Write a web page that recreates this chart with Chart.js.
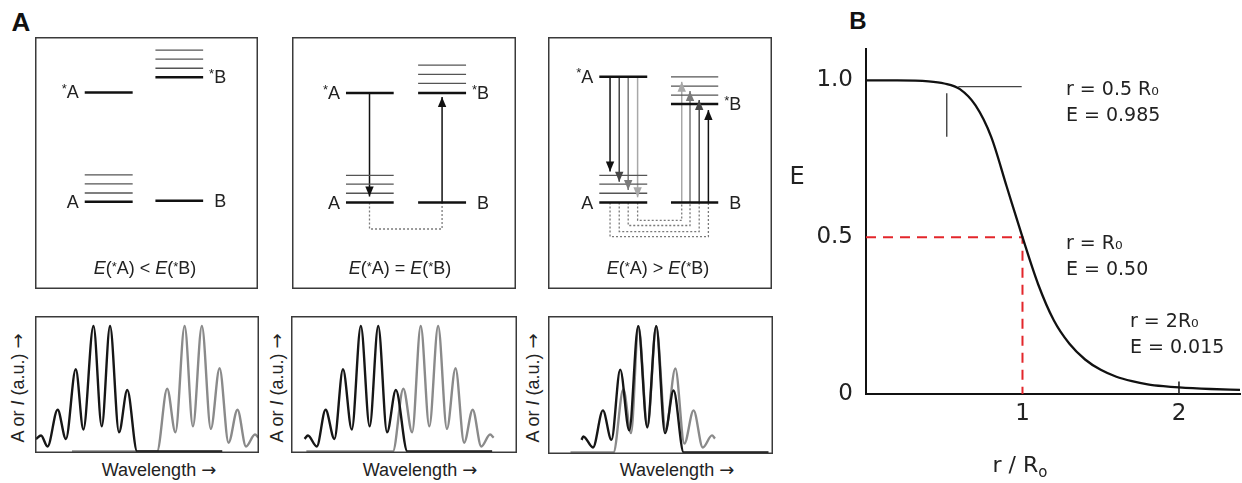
<!DOCTYPE html>
<html>
<head>
<meta charset="utf-8">
<script src="https://cdn.jsdelivr.net/npm/chart.js@4.4.1/dist/chart.umd.min.js"></script>
<style>
  html, body { margin: 0; padding: 0; background: #fff; }
  #page { position: relative; width: 1242px; height: 483px; overflow: hidden;
          font-family: "Liberation Sans", Arial, sans-serif; color: #222; }
  .box { position: absolute; }
  .lbl { position: absolute; white-space: nowrap; line-height: 1; transform: translate(-50%, -50%); }
  .panel { font-weight: bold; font-size: 26px; color: #111; }
  .cap, .wl { font-size: 18px; }
  .star { font-size: 13px; position: relative; top: -3px; }
  .vert { font-size: 18px; transform: translate(-50%, -50%) rotate(-90deg); }
  .arr { font-family: "DejaVu Sans", sans-serif; font-size: 18px; color: #222; }
  .lettering { font-family: "DejaVu Sans", sans-serif; color: #222; }
</style>
</head>
<body>
<div id="page">
  <div class="lbl panel" style="left:21px;top:22px">A</div>
  <div class="lbl panel" style="left:858px;top:21px;font-size:24px">B</div>

  <div class="box" style="left:35px;top:37px;width:223px;height:252px"><canvas id="diagram-1"></canvas></div>
  <div class="box" style="left:292px;top:37px;width:224px;height:252px"><canvas id="diagram-2"></canvas></div>
  <div class="box" style="left:548px;top:37px;width:224px;height:252px"><canvas id="diagram-3"></canvas></div>

  <div class="lbl cap" style="left:145px;top:268px"><i>E</i>(<span class="star">*</span>A) &lt; <i>E</i>(<span class="star">*</span>B)</div>
  <div class="lbl cap" style="left:400px;top:268px"><i>E</i>(<span class="star">*</span>A) = <i>E</i>(<span class="star">*</span>B)</div>
  <div class="lbl cap" style="left:658px;top:268px"><i>E</i>(<span class="star">*</span>A) &gt; <i>E</i>(<span class="star">*</span>B)</div>

  <div class="box" style="left:35px;top:316px;width:224px;height:137px"><canvas id="spectrum-1"></canvas></div>
  <div class="box" style="left:291px;top:316px;width:226px;height:137px"><canvas id="spectrum-2"></canvas></div>
  <div class="box" style="left:548px;top:316px;width:225px;height:138px"><canvas id="spectrum-3"></canvas></div>

  <div class="lbl vert" style="left:18px;top:388px">A or <i>I</i> (a.u.) <span class="arr">→</span></div>
  <div class="lbl vert" style="left:277px;top:388px">A or <i>I</i> (a.u.) <span class="arr">→</span></div>
  <div class="lbl vert" style="left:533px;top:388px">A or <i>I</i> (a.u.) <span class="arr">→</span></div>

  <div class="lbl wl" style="left:159px;top:470px">Wavelength <span class="arr">→</span></div>
  <div class="lbl wl" style="left:420px;top:470px">Wavelength <span class="arr">→</span></div>
  <div class="lbl wl" style="left:677px;top:470px">Wavelength <span class="arr">→</span></div>

  <div class="box" style="left:780px;top:0;width:462px;height:483px"><canvas id="fret-chart"></canvas></div>
  <div class="lbl lettering" style="left:797px;top:176px;font-size:24px">E</div>
  <div class="lbl lettering" style="left:1020px;top:465px;font-size:22px">r / R<span style="font-size:15px;position:relative;top:5px">o</span></div>
</div>

<script>
  // ---- Panel A, top: energy diagrams (x: 0-100 across the box, energy: 0-100 bottom to top)
  const donorSpan = [[22.3, 43.8], [24.1, 45.4], [22.9, 44.3]];
  const acceptorSpan = [[54.0, 75.4], [56.3, 77.7], [54.9, 76.0]];
  const donorExcited = [78.0, 77.8, 84.2];
  const donorGround = [34.6, 34.3, 34.3];
  const donorVib = [[38.1, 41.7, 45.3], [38.0, 41.6, 45.1], [38.0, 41.6, 45.1]];
  const acceptorExcited = [84.0, 77.8, 73.4];
  const acceptorGround = [35.0, 34.3, 34.3];
  const acceptorVib = [[87.6, 91.2, 94.8], [81.6, 85.2, 88.8], [76.9, 80.5, 84.2]];

  // emission arrows (donor) and absorption arrows (acceptor), paired by index
  const emissionX = [[], [34.6], [27.7, 31.8, 35.8, 40.0]];
  const emissionTip = [[], [36.7], [46.6, 42.6, 39.3, 36.4]];
  const absorptionX = [[], [67.0], [71.6, 67.5, 63.4, 59.7]];
  const absorptionTip = [[], [76.2], [71.0, 75.0, 78.6, 82.2]];
  const couplingDepth = [[], [23.8], [20.8, 22.8, 25.2, 27.2]];

  // ---- Panel A, bottom: spectra (wavelength 0-100 across the box, intensity 0-1)
  const emissionIntensity = [0.10, 0.127, 0.04, 0.333, 0.10, 0.656, 0.175, 1.0, 0.20, 1.0, 0.153, 0.49, 0, 0];
  const absorptionIntensity = [0, 0, 0.50, 0.153, 1.0, 0.20, 1.0, 0.18, 0.664, 0.07, 0.333, 0.04, 0.135, 0.11];
  const emissionWl = [
    [0.4, 2.7, 5.6, 10.1, 13.8, 18.2, 21.6, 26.1, 29.8, 33.5, 37.5, 41.2, 45.6, 83.6],
    [6.0, 7.5, 11.4, 15.3, 19.2, 23.0, 26.9, 30.9, 34.8, 38.6, 42.5, 46.4, 51.5, 89.0],
    [14.9, 15.7, 20.0, 24.4, 28.2, 32.1, 36.1, 40.1, 44.1, 48.1, 52.0, 55.8, 60.3, 98.0]
  ];
  const absorptionWl = [
    [16.5, 54.5, 59.0, 62.7, 66.8, 70.5, 74.5, 78.5, 82.4, 86.4, 90.4, 94.2, 98.2, 99.8],
    [6.8, 45.1, 49.7, 53.6, 57.4, 61.2, 65.1, 69.0, 72.8, 76.6, 80.4, 84.2, 88.1, 89.7],
    [10.0, 29.1, 33.5, 36.9, 40.2, 44.2, 48.1, 52.3, 56.6, 60.6, 64.7, 68.8, 72.9, 74.2]
  ];

  // ---- Panel B: FRET efficiency vs r/R0
  const rRatio = [0, 0.2, 0.4, 0.5, 0.6, 0.7, 0.8, 0.9, 1.0, 1.1, 1.2, 1.3, 1.4, 1.5, 1.6, 1.7, 1.8, 1.9, 2.0, 2.2, 2.39];
  const efficiency = [1.0, 1.0, 0.997, 0.99, 0.972, 0.92, 0.82, 0.66, 0.50, 0.35, 0.235, 0.16, 0.11, 0.077, 0.055, 0.041, 0.031, 0.025, 0.021, 0.016, 0.013];
  const rTickValues = [1, 2];
  const rTickLabels = ['1', '2'];
  const eTickValues = [0, 0.5, 1.0];
  const eTickLabels = ['0', '0.5', '1.0'];
  const halfPointR = [0, 1, 1];
  const halfPointE = [0.5, 0.5, 0];
  const markHorizR = [0.59, 0.995];
  const markHorizE = [0.98, 0.98];
  const markVertR = [0.516, 0.516];
  const markVertE = [0.959, 0.82];
  const tickTwoR = [2, 2];
  const tickTwoE = [0, 0.04];
  const noteText = [['r = 0.5 R₀', 'E = 0.985'], ['r = R₀', 'E = 0.50'], ['r = 2R₀', 'E = 0.015']];
  const noteR = [1.278, 1.278, 1.687];
  const noteE = [0.969, 0.478, 0.23];

  const LABEL_FONT = '"Liberation Sans", Arial, sans-serif';
  const LETTERING = '"DejaVu Sans", sans-serif';
  const SHADES = ['#111', '#474747', '#7a7a7a', '#a8a8a8'];

  function pts(xs, ys) {
    return xs.map((x, i) => ({ x: x, y: ys[i] }));
  }

  function seg(xs, ys, color, width, extra) {
    return Object.assign({
      data: pts(xs, ys),
      showLine: true,
      borderColor: color,
      borderWidth: width,
      pointRadius: 0,
      fill: false
    }, extra || {});
  }

  const hiddenScales = {
    x: { type: 'linear', min: 0, max: 100, display: false },
    y: { type: 'linear', min: 0, max: 100, display: false }
  };

  const baseOptions = {
    animation: false,
    responsive: true,
    maintainAspectRatio: false,
    events: [],
    layout: { padding: 0 },
    plugins: { legend: { display: false }, tooltip: { enabled: false } }
  };

  // Box outline round the chart area
  const framePlugin = {
    id: 'frame',
    afterDraw(chart) {
      const { ctx, chartArea: a } = chart;
      ctx.save();
      ctx.strokeStyle = '#3a3a3a';
      ctx.lineWidth = 1.5;
      ctx.strokeRect(a.left + 0.75, a.top + 0.75, a.right - a.left - 1.5, a.bottom - a.top - 1.5);
      ctx.restore();
    }
  };

  // Filled arrow heads on datasets flagged with arrowHead
  const arrowPlugin = {
    id: 'arrowHeads',
    afterDatasetsDraw(chart) {
      const ctx = chart.ctx;
      chart.data.datasets.forEach((ds, i) => {
        if (!ds.arrowHead) return;
        const p = chart.getDatasetMeta(i).data;
        const a = p[p.length - 2], b = p[p.length - 1];
        const ang = Math.atan2(b.y - a.y, b.x - a.x);
        ctx.save();
        ctx.translate(b.x, b.y);
        ctx.rotate(ang);
        ctx.beginPath();
        ctx.moveTo(0, 0);
        ctx.lineTo(-10, -4.2);
        ctx.lineTo(-10, 4.2);
        ctx.closePath();
        ctx.fillStyle = ds.borderColor;
        ctx.fill();
        ctx.restore();
      });
    }
  };

  // Level names: *A, A beside the donor levels, *B, B beside the acceptor levels
  function drawTag(ctx, text, x, y, side) {
    const hasStar = text[0] === '*';
    const letter = hasStar ? text.slice(1) : text;
    ctx.font = '18px ' + LABEL_FONT;
    ctx.textBaseline = 'middle';
    ctx.textAlign = 'left';
    ctx.fillStyle = '#222';
    const w = ctx.measureText(letter).width;
    const lx = side === 'left' ? x - 6 - w : x + 11;
    ctx.fillText(letter, lx, y + 1);
    if (hasStar) {
      ctx.font = '13px ' + LABEL_FONT;
      const sw = ctx.measureText('*').width;
      ctx.fillText('*', lx - sw, y - 3);
    }
  }

  function initDiagram(i) {
    const dS = donorSpan[i], aS = acceptorSpan[i];
    const sets = [];

    // main levels (thick) and vibrational levels (thin)
    sets.push(seg(dS, [donorExcited[i], donorExcited[i]], '#111', 2.6));
    sets.push(seg(dS, [donorGround[i], donorGround[i]], '#111', 2.6));
    sets.push(seg(aS, [acceptorExcited[i], acceptorExcited[i]], '#111', 2.6));
    sets.push(seg(aS, [acceptorGround[i], acceptorGround[i]], '#111', 2.6));
    donorVib[i].forEach(e => sets.push(seg(dS, [e, e], '#555', 1.3)));
    acceptorVib[i].forEach(e => sets.push(seg(aS, [e, e], '#555', 1.3)));

    // emission / absorption arrows
    emissionX[i].forEach((x, k) => {
      sets.push(seg([x, x], [donorExcited[i], emissionTip[i][k]], SHADES[k], 1.5, { arrowHead: true }));
    });
    absorptionX[i].forEach((x, k) => {
      sets.push(seg([x, x], [acceptorGround[i], absorptionTip[i][k]], SHADES[k], 1.5, { arrowHead: true }));
    });

    // dotted coupling loops joining each pair of transitions
    couplingDepth[i].forEach((d, k) => {
      const ex = emissionX[i][k], ax = absorptionX[i][k];
      sets.push(seg([ex, ex, ax, ax], [donorGround[i], d, d, acceptorGround[i]], '#7a7a7a', 1.3,
        { borderDash: [2, 2] }));
    });

    const tagPlugin = {
      id: 'levelTags',
      afterDraw(chart) {
        const { ctx, scales: { x: xs, y: ys } } = chart;
        ctx.save();
        drawTag(ctx, '*A', xs.getPixelForValue(dS[0]), ys.getPixelForValue(donorExcited[i]), 'left');
        drawTag(ctx, 'A', xs.getPixelForValue(dS[0]), ys.getPixelForValue(donorGround[i]), 'left');
        drawTag(ctx, '*B', xs.getPixelForValue(aS[1]), ys.getPixelForValue(acceptorExcited[i]), 'right');
        drawTag(ctx, 'B', xs.getPixelForValue(aS[1]), ys.getPixelForValue(acceptorGround[i]), 'right');
        ctx.restore();
      }
    };

    new Chart(document.getElementById('diagram-' + (i + 1)), {
      type: 'scatter',
      data: { datasets: sets },
      options: Object.assign({}, baseOptions, { scales: hiddenScales }),
      plugins: [framePlugin, arrowPlugin, tagPlugin]
    });
  }

  function initSpectrum(i) {
    const curve = { showLine: true, pointRadius: 0, fill: false, borderWidth: 2.4,
                    cubicInterpolationMode: 'monotone' };
    new Chart(document.getElementById('spectrum-' + (i + 1)), {
      type: 'scatter',
      data: {
        datasets: [
          Object.assign({ data: pts(emissionWl[i], emissionIntensity), borderColor: '#161616' }, curve),
          Object.assign({ data: pts(absorptionWl[i], absorptionIntensity), borderColor: '#8a8a8a' }, curve)
        ]
      },
      options: Object.assign({}, baseOptions, {
        scales: {
          x: { type: 'linear', min: 0, max: 100, display: false },
          y: { type: 'linear', min: -0.012, max: 1.08, display: false }
        }
      }),
      plugins: [framePlugin]
    });
  }

  function initFretChart() {
    const notePlugin = {
      id: 'notes',
      afterDraw(chart) {
        const { ctx, scales: { x: xs, y: ys } } = chart;
        ctx.save();
        ctx.font = '19px ' + LETTERING;
        ctx.fillStyle = '#222';
        ctx.textAlign = 'left';
        ctx.textBaseline = 'middle';
        noteText.forEach((lines, k) => {
          const px = xs.getPixelForValue(noteR[k]);
          const py = ys.getPixelForValue(noteE[k]);
          lines.forEach((t, j) => ctx.fillText(t, px, py + j * 26));
        });
        ctx.restore();
      }
    };

    const tickFont = { family: LETTERING, size: 23 };

    new Chart(document.getElementById('fret-chart'), {
      type: 'scatter',
      data: {
        datasets: [
          seg(rRatio, efficiency, '#111', 2.3, { cubicInterpolationMode: 'monotone' }),
          seg(halfPointR, halfPointE, '#e3262b', 2, { borderDash: [10, 7] }),
          seg(markHorizR, markHorizE, '#444', 1.4),
          seg(markVertR, markVertE, '#444', 1.4),
          seg(tickTwoR, tickTwoE, '#222', 1.6)
        ]
      },
      options: Object.assign({}, baseOptions, {
        layout: { padding: { top: 49, right: 2, left: 0, bottom: 0 } },
        scales: {
          x: {
            type: 'linear', min: 0, max: 2.39,
            grid: { display: false, drawTicks: false },
            border: { display: true, color: '#111', width: 2 },
            ticks: {
              font: tickFont, color: '#222', padding: 6,
              callback: v => rTickLabels[rTickValues.indexOf(v)] || ''
            },
            afterBuildTicks: s => { s.ticks = rTickValues.map(v => ({ value: v })); },
            afterFit: s => { s.height = 89; }
          },
          y: {
            type: 'linear', min: 0, max: 1.1,
            grid: { display: false, drawTicks: false },
            border: { display: true, color: '#111', width: 2 },
            ticks: {
              font: tickFont, color: '#222', padding: 13,
              callback: v => eTickLabels[eTickValues.indexOf(v)] || ''
            },
            afterBuildTicks: s => { s.ticks = eTickValues.map(v => ({ value: v })); },
            afterFit: s => { s.width = 86; }
          }
        }
      }),
      plugins: [notePlugin]
    });
  }

  if (typeof Chart === 'undefined') {
    console.error('Chart.js not loaded');
  } else {
    [0, 1, 2].forEach(initDiagram);
    [0, 1, 2].forEach(initSpectrum);
    initFretChart();
  }
</script>
</body>
</html>
